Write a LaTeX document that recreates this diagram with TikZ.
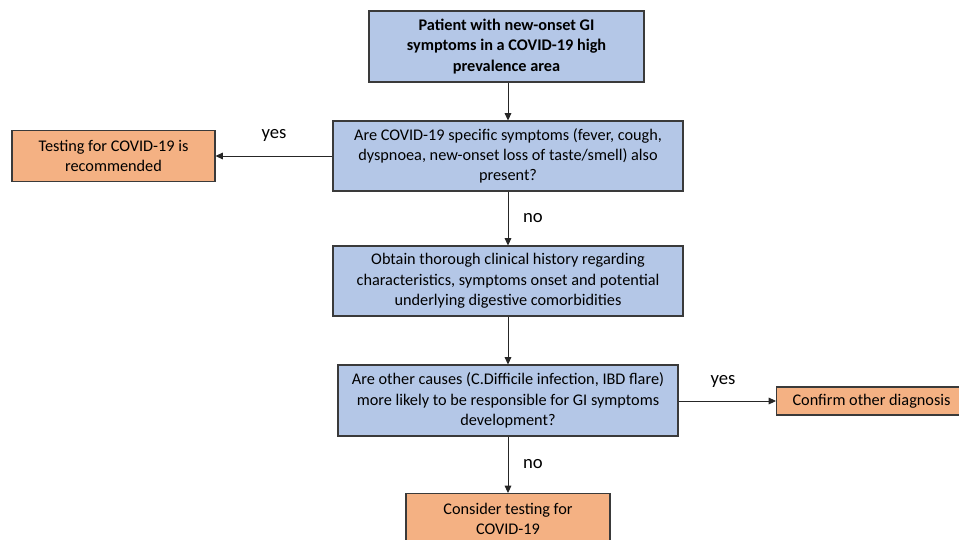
\documentclass[tikz,border=0pt]{standalone}
\usepackage{fontspec}
\setmainfont{Carlito}
\usetikzlibrary{arrows.meta}
\definecolor{boxblue}{HTML}{B4C7E7}
\definecolor{boxorange}{HTML}{F4B183}
\definecolor{edgegray}{HTML}{3A3A3A}
\tikzset{
  bluebox/.style={draw=edgegray, line width=0.8pt, fill=boxblue, inner sep=0pt, align=center, font=\fontsize{12.2}{15.2}\selectfont},
  orangebox/.style={draw=edgegray, line width=0.8pt, fill=boxorange, inner sep=0pt, align=center, font=\fontsize{12.2}{15.2}\selectfont},
  conn/.style={draw=black!85, line width=0.7pt, -{Triangle[length=5.5pt,width=5pt]}},
  lbl/.style={font=\fontsize{14}{16}\selectfont, inner sep=0pt}
}
\begin{document}
\begin{tikzpicture}[x=0.75pt,y=-0.75pt]
\useasboundingbox (0,0) rectangle (959,539);
\clip (0,0) rectangle (959,539);
\fill[white] (0,0) rectangle (959,539);
\node[bluebox, minimum width=206.25pt, minimum height=53.25pt, font=\fontsize{12.2}{15.2}\selectfont\bfseries] (top) at (506.5,46.5) {Patient with new-onset GI\\symptoms in a COVID-19 high\\prevalence area};
\node[bluebox, minimum width=262.5pt, minimum height=52.5pt] (q1) at (508,156) {Are COVID-19 specific symptoms (fever, cough,\\dyspnoea, new-onset loss of taste/smell) also\\present?};
\node[orangebox, minimum width=152.25pt, minimum height=38.25pt] (left) at (113.5,156) {Testing for COVID-19 is\\recommended};
\node[bluebox, minimum width=262.5pt, minimum height=52.5pt] (hist) at (508,281) {Obtain thorough clinical history regarding\\characteristics, symptoms onset and potential\\underlying digestive comorbidities};
\node[bluebox, minimum width=255pt, minimum height=53.25pt] (q2) at (508,400.5) {Are other causes (C.Difficile infection, IBD flare)\\more likely to be responsible for GI symptoms\\development?};
\node[orangebox, text width=180pt, align=flush left, inner xsep=12pt, minimum height=21pt, anchor=west] (right) at (776,401) {Confirm other diagnosis};
\node[orangebox, minimum width=153pt, minimum height=37.5pt, anchor=north] (bottom) at (508,493) {Consider testing for\\COVID-19};
\draw[conn] (q1.north |- top.south) -- (q1.north);
\draw[conn] (q1.west) -- (left.east);
\draw[conn] (q1.south) -- (hist.north);
\draw[conn] (hist.south) -- (q2.north);
\draw[conn] (q2.east |- right.west) -- (right.west);
\draw[conn] (q2.south) -- (bottom.north);
\node[lbl] (yes1) at (274,135) {yes};
\node[lbl] (no1) at (533,218) {no};
\node[lbl] (yes2) at (723,381) {yes};
\node[lbl] (no2) at (533,464) {no};
\end{tikzpicture}
\end{document}
